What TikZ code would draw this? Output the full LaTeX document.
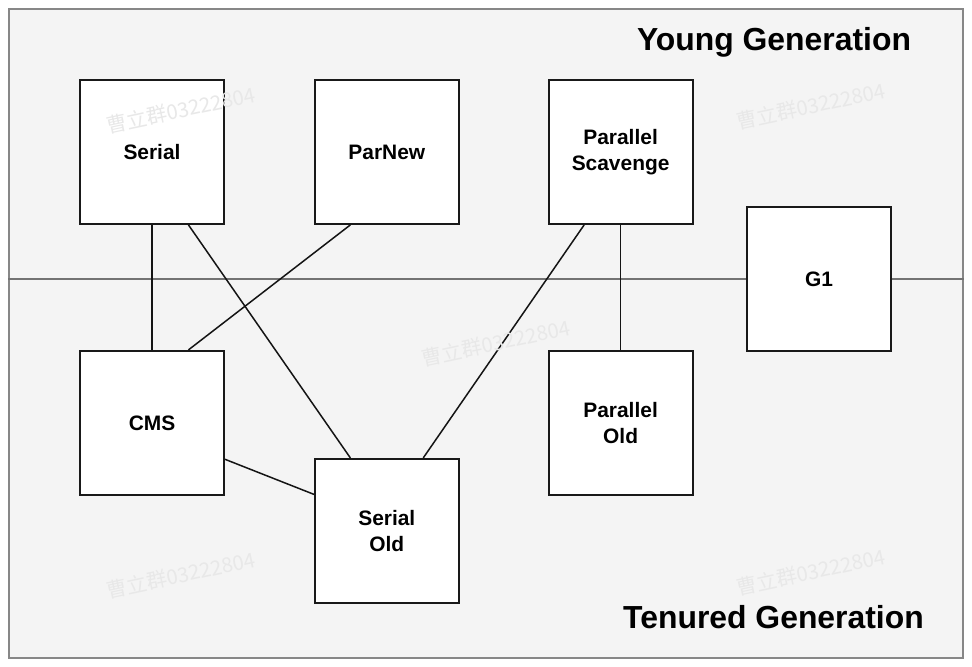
\documentclass[tikz,border=0pt]{standalone}
\usepackage{fontspec}
\setmainfont{Liberation Sans}
\newfontfamily\cjkfont{Noto Sans CJK SC}
\usepackage{xcolor}
\usepackage{tikz}
\usetikzlibrary{positioning,calc}

\begin{document}
\begin{tikzpicture}[
  x=1bp, y=-1bp,
  node distance=89bp,
  heap area/.style={draw=black!47,fill=black!4.5,line width=1.5bp,
    minimum width=954bp,minimum height=649bp,inner sep=0pt},
  gc box/.style={draw=black!90,fill=white,line width=1.8bp,
    minimum width=144bp,minimum height=144bp,inner sep=0pt,align=center,
    font=\fontsize{21}{26}\selectfont\bfseries},
  divider/.style={draw=black!55,line width=1.2bp},
  link/.style={draw=black!92,line width=1.5bp},
  gen title/.style={font=\fontsize{32}{38}\selectfont\bfseries,inner sep=0pt},
  watermark/.style={font=\cjkfont\fontsize{20.5}{22}\selectfont,text=black!9,
    rotate=12,inner sep=0pt}
]
\useasboundingbox (0,0) rectangle (972,667);

% Heap area, split into young and tenured halves.
\node[heap area] (heap) at (486,333.5) {};

% Young generation collectors.
\node[gc box] (serial) at (152,152) {Serial};
\node[gc box,right=89bp of serial] (parnew) {ParNew};
\node[gc box,right=88bp of parnew] (scavenge) {Parallel\\Scavenge};
\node[gc box] (g1) at (819,279) {G1};

% Tenured generation collectors.
\node[gc box,below=125bp of serial] (cms) {CMS};
\node[gc box,below=233bp of parnew] (serial-old) {Serial\\Old};
\node[gc box,below=125bp of scavenge] (parallel-old) {Parallel\\Old};

\draw[divider] (heap.west |- g1.center) -- (g1.west);
\draw[divider] (g1.east) -- (heap.east |- g1.center);

% Which young collector pairs with which old collector.
\draw[link] (serial) -- (cms);
\draw[link] ($(serial.south)!0.5!(serial.south east)$)
  -- ($(serial-old.north)!0.5!(serial-old.north west)$);
\draw[link] ($(parnew.south)!0.5!(parnew.south west)$)
  -- ($(cms.north)!0.5!(cms.north east)$);
\draw[link] ($(scavenge.south)!0.5!(scavenge.south west)$)
  -- ($(serial-old.north)!0.5!(serial-old.north east)$);
\draw[link] (scavenge) -- (parallel-old);
\draw[link] ($(cms.east)!0.5!(cms.south east)$)
  -- ($(serial-old.west)!0.5!(serial-old.north west)$);

\node[gen title,anchor=base] (young) at (774,51) {Young Generation};
\node[gen title,anchor=base] (tenured) at (773.5,628) {Tenured Generation};

% Watermarks.
\node[watermark] (mark-a) at (181,110) {曹立群03222804};
\node[watermark] (mark-b) at (811,106) {曹立群03222804};
\node[watermark] (mark-c) at (496,343) {曹立群03222804};
\node[watermark] (mark-d) at (181,575) {曹立群03222804};
\node[watermark] (mark-e) at (811,572) {曹立群03222804};

\end{tikzpicture}
\end{document}
